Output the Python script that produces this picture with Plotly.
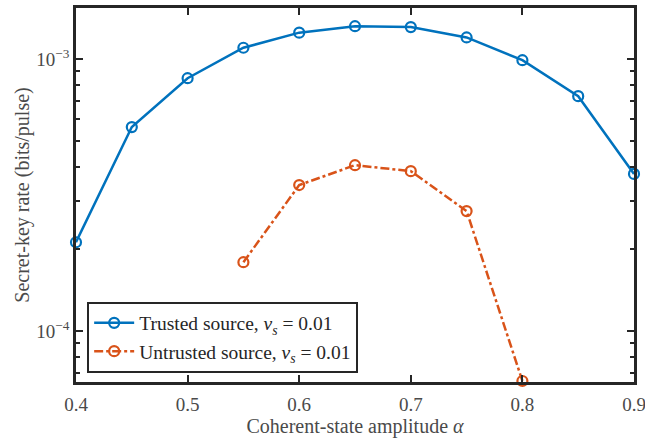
import plotly.graph_objects as go

alpha_trusted = [0.40, 0.45, 0.50, 0.55, 0.60, 0.65, 0.70, 0.75, 0.80, 0.85, 0.90]
rate_trusted = [2.12e-4, 5.62e-4, 8.5e-4, 1.10e-3, 1.25e-3, 1.32e-3, 1.31e-3, 1.20e-3, 9.9e-4, 7.3e-4, 3.78e-4]
alpha_untrusted = [0.55, 0.60, 0.65, 0.70, 0.75, 0.80]
rate_untrusted = [1.79e-4, 3.44e-4, 4.07e-4, 3.87e-4, 2.76e-4, 6.55e-5]

x_ticks = [0.4, 0.5, 0.6, 0.7, 0.8, 0.9]
x_ticktext = ["0.4", "0.5", "0.6", "0.7", "0.8", "0.9"]
y_ticks = [1e-4, 1e-3]
y_ticktext = ["10<sup>\u22124</sup>", "10<sup>\u22123</sup>"]
y_minor = [7e-5, 8e-5, 9e-5] + [k * 1e-4 for k in range(2, 10)]

BLUE = "#0072BD"
ORANGE = "#D95319"
AX = "#262626"
TXT = "#4a4a4a"
FONT = "Liberation Serif"

fig = go.Figure()
fig.add_trace(go.Scatter(
    x=alpha_trusted, y=rate_trusted, mode="lines+markers",
    name="Trusted source, <i>\u03bd<sub>s</sub></i> = 0.01",
    line=dict(color=BLUE, width=2.5),
    marker=dict(symbol="circle-open", size=10, color=BLUE, line=dict(width=2.2, color=BLUE)),
    cliponaxis=False,
))
fig.add_trace(go.Scatter(
    x=alpha_untrusted, y=rate_untrusted, mode="lines+markers",
    name="Untrusted source, <i>\u03bd<sub>s</sub></i> = 0.01",
    line=dict(color=ORANGE, width=2.5, dash="dashdot"),
    marker=dict(symbol="circle-open", size=10, color=ORANGE, line=dict(width=2.2, color=ORANGE)),
    cliponaxis=False,
))

fig.update_layout(
    width=645, height=440,
    margin=dict(l=76, r=11, t=8, b=58, autoexpand=False),
    paper_bgcolor="white", plot_bgcolor="white",
    font=dict(family=FONT, size=19, color=TXT),
    showlegend=True,
    legend=dict(
        x=0.02, y=0.025, xanchor="left", yanchor="bottom",
        bgcolor="white", bordercolor=AX, borderwidth=2,
        font=dict(family=FONT, size=19.5, color=AX),
        tracegroupgap=0, itemwidth=40,
    ),
    xaxis=dict(
        range=[0.4, 0.9], tickvals=x_ticks, ticktext=x_ticktext,
        ticks="inside", ticklen=7, tickwidth=2, tickcolor=AX,
        showline=True, linecolor=AX, linewidth=2.5, mirror="allticks",
        showgrid=False, zeroline=False, ticklabeloverflow="allow", automargin=False,
        ticklabelstandoff=3,
        tickfont=dict(family=FONT, size=19, color=TXT),
        title=dict(text="Coherent-state amplitude <i>\u03b1</i>", font=dict(family=FONT, size=20, color=TXT), standoff=6),
    ),
    yaxis=dict(
        type="log", range=[-4.1875, -2.8125],
        tickvals=y_ticks, ticktext=y_ticktext,
        ticks="inside", ticklen=7, tickwidth=2, tickcolor=AX,
        minor=dict(tickmode="array", tickvals=y_minor, ticks="inside", ticklen=4, tickwidth=2, tickcolor=AX),
        showline=True, linecolor=AX, linewidth=2.5, mirror="allticks",
        showgrid=False, zeroline=False, automargin=False,
        tickfont=dict(family=FONT, size=19, color=TXT),
        title=dict(text="Secret-key rate (bits/pulse)", font=dict(family=FONT, size=20, color=TXT), standoff=2),
    ),
)

fig.write_html("out.html")
